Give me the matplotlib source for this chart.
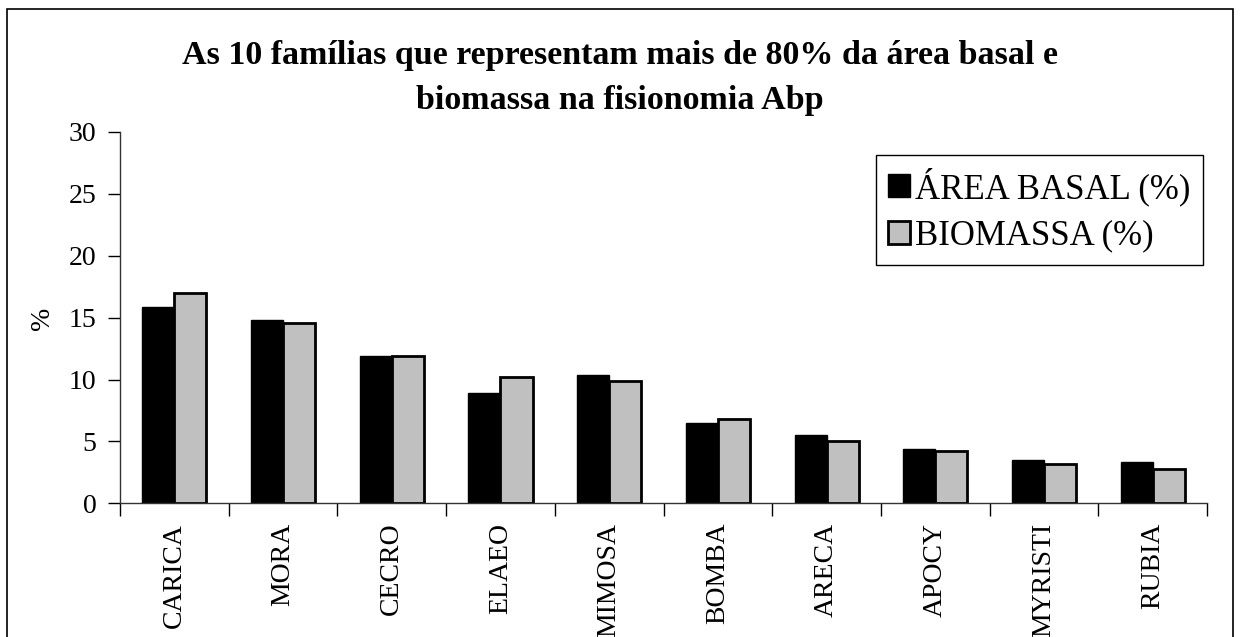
import matplotlib
matplotlib.use("Agg")
import matplotlib.pyplot as plt
from matplotlib.patches import Rectangle
import numpy as np

familias = ["CARICA", "MORA", "CECRO", "ELAEO", "MIMOSA",
            "BOMBA", "ARECA", "APOCY", "MYRISTI", "RUBIA"]
area_basal = [15.9, 14.8, 11.9, 8.9, 10.4, 6.5, 5.5, 4.4, 3.5, 3.3]
biomassa = [17.0, 14.6, 11.9, 10.2, 9.9, 6.8, 5.0, 4.2, 3.2, 2.8]

plt.rcParams['font.family'] = ['Liberation Serif', 'DejaVu Serif']

fig = plt.figure(figsize=(12.4, 6.37), dpi=100)
ax = fig.add_axes([0.0968, 0.2099, 0.8766, 0.5829])

x = np.arange(len(familias))
w = 0.295
ax.bar(x - w / 2, area_basal, w, color='black', edgecolor='black',
       linewidth=1, label='ÁREA BASAL (%)')
ax.bar(x + w / 2, biomassa, w, color='#c0c0c0', edgecolor='black',
       linewidth=2, label='BIOMASSA (%)')

ax.set_xlim(-0.5, len(familias) - 0.5)
ax.set_ylim(0, 30)
ax.set_yticks(range(0, 31, 5))
ax.tick_params(axis='y', labelsize=20, length=9, width=1, pad=8)

# labels at centres, tick marks at group boundaries
ax.set_xticks(x)
ax.set_xticklabels(familias, rotation=90, fontsize=20)
ax.tick_params(axis='x', which='major', length=0, pad=14)
ax.set_xticks(np.arange(-0.5, len(familias)), minor=True)
ax.tick_params(axis='x', which='minor', length=9, width=1)

for s in ['top', 'right']:
    ax.spines[s].set_visible(False)
for s in ['left', 'bottom']:
    ax.spines[s].set_color('#333333')
    ax.spines[s].set_linewidth(1)

fig.text(42 / 1240, 0.5, '%', rotation=90, fontsize=20,
         ha='center', va='center')

titulo = ['As 10 famílias que representam mais de 80% da área basal e',
          'biomassa na fisionomia Abp']
fig.text(0.5, 1 - 64 / 637, titulo[0], ha='center', va='baseline',
         fontsize=24.5, fontweight='bold')
fig.text(0.5, 1 - 109 / 637, titulo[1], ha='center', va='baseline',
         fontsize=24.5, fontweight='bold')

leg = ax.legend(loc='upper right', bbox_to_anchor=(1203 / 1240, 1 - 155 / 637),
                bbox_transform=fig.transFigure, borderaxespad=0,
                fontsize=25, fancybox=False, framealpha=1, edgecolor='black',
                handlelength=0.65, handleheight=0.65, handletextpad=0.15,
                labelspacing=0.4, borderpad=0.35)
leg.get_frame().set_linewidth(1)

# outer chart frame
fig.patches.append(Rectangle((7 / 1240, -0.1), (1233 - 7) / 1240, 1.1 - 9 / 637,
                             transform=fig.transFigure, fill=False,
                             edgecolor='black', linewidth=1.2))

fig.savefig('out.png', dpi=100)
